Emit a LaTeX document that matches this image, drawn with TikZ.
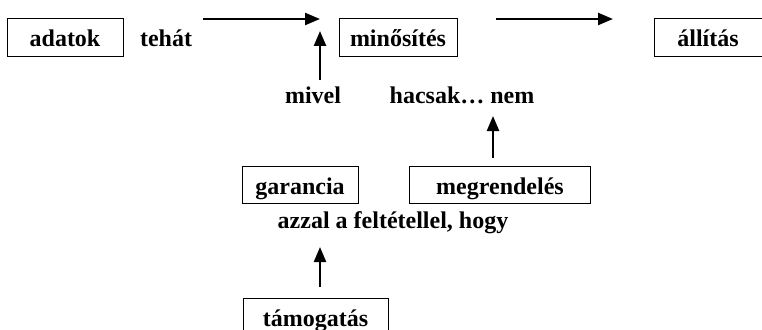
\documentclass[tikz,border=0pt]{standalone}
\usepackage{fontspec}
\setmainfont{Liberation Serif}
\usetikzlibrary{arrows.meta}
\begin{document}
\begin{tikzpicture}[x=1pt,y=-1pt,
  txt/.style={font=\fontsize{24}{28}\selectfont\bfseries, inner sep=0pt},
  box/.style={txt, draw, line width=1pt, minimum height=38pt, text height=20pt, text depth=2pt},
  arr/.style={line width=2.4pt, -{Triangle[length=15pt,width=12pt]}}]
\clip (0,0) rectangle (762,329);
\fill[white] (0,0) rectangle (762,329);
% boxes
\node[box, minimum width=116pt] (adatok) at (65,38) {adatok};
\node[box, minimum width=118pt] (min) at (398,38) {minősítés};
\node[box, minimum width=108pt] (all) at (708,38) {állítás};
\node[box, minimum width=116pt, minimum height=37pt] (gar) at (300,185) {garancia};
\node[box, minimum width=181pt, minimum height=37pt] (meg) at (500,185) {megrendelés};
\node[box, minimum width=145pt] (tam) at (315.5,317) {támogatás};
% plain texts
\node[txt, anchor=base] (tehat) at (166,47) {tehát};
\node[txt, anchor=base] (mivel) at (313,103) {mivel};
\node[txt, anchor=base] (hacsak) at (462,103) {hacsak… nem};
\node[txt, anchor=base] (azzal) at (393,228) {azzal a feltétellel, hogy};
% arrow end points
\coordinate (a1s) at (203,19);
\coordinate (a1e) at (320,19);
\coordinate (a2s) at (496,19);
\coordinate (a2e) at (613,19);
\coordinate (a3s) at (320,80);
\coordinate (a3e) at (320,31);
\coordinate (a4s) at (493,158);
\coordinate (a4e) at (493,116);
\coordinate (a5s) at (320,287);
\coordinate (a5e) at (320,247);
\draw[arr] (a1s) -- (a1e);
\draw[arr] (a2s) -- (a2e);
\draw[arr] (a3s) -- (a3e);
\draw[arr] (a4s) -- (a4e);
\draw[arr] (a5s) -- (a5e);
\end{tikzpicture}
\end{document}
